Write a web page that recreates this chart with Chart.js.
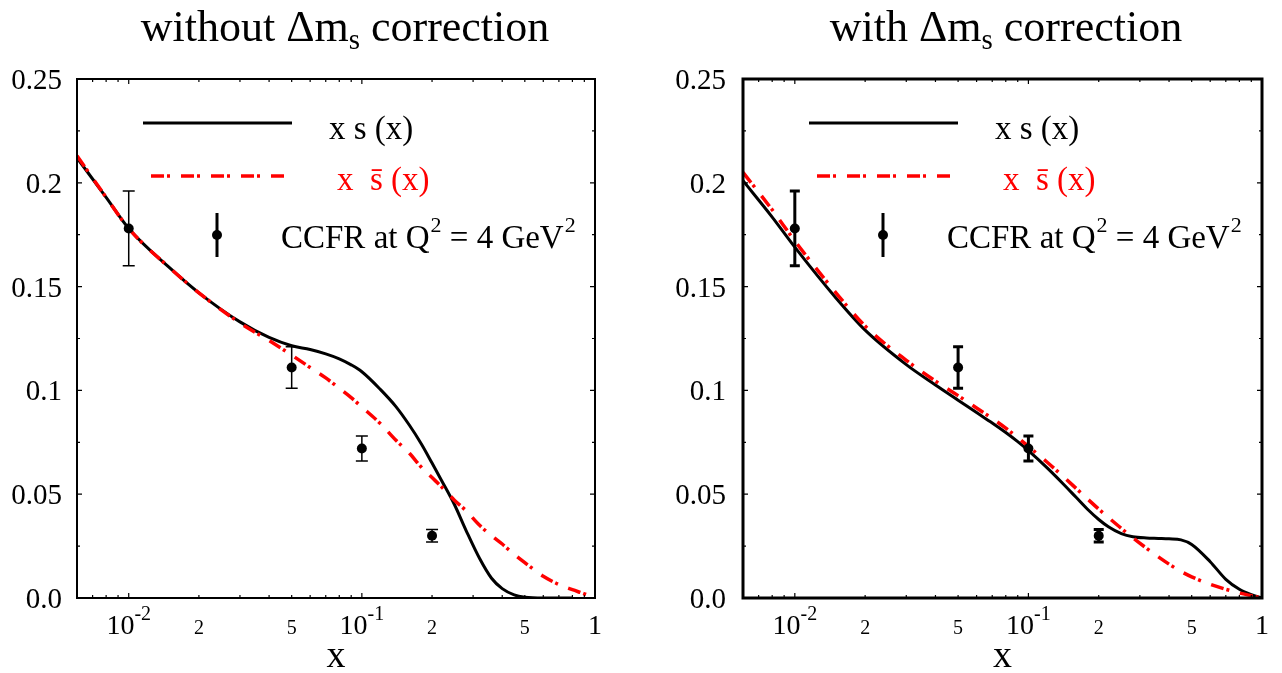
<!DOCTYPE html>
<html>
<head>
<meta charset="utf-8">
<script src="https://cdn.jsdelivr.net/npm/chart.js@4.4.1/dist/chart.umd.min.js"></script>
<style>
  body { margin: 0; background: #fff; }
  #wrap { position: relative; width: 1282px; height: 673px; }
  canvas { position: absolute; top: 0; }
</style>
</head>
<body>
<div id="wrap">
  <canvas id="leftPanel" width="641" height="673" style="left:0"></canvas>
  <canvas id="rightPanel" width="641" height="673" style="left:641px"></canvas>
</div>
<script>
// x grid used by all curves
var xGrid = [0.006, 0.008, 0.01, 0.015, 0.02, 0.03, 0.04, 0.05, 0.06, 0.07, 0.08, 0.09, 0.1,
             0.12, 0.14, 0.16, 0.18, 0.2, 0.22, 0.25, 0.28, 0.32, 0.36, 0.4, 0.45, 0.5,
             0.6, 0.7, 0.8, 0.9, 1.0];

// without Delta m_s correction
var leftS    = [0.212, 0.193, 0.178, 0.159, 0.147, 0.133, 0.1255, 0.1215, 0.1197, 0.1176, 0.1152, 0.1123, 0.109,
                0.1005, 0.0922, 0.0832, 0.0742, 0.065, 0.0565, 0.0448, 0.0325, 0.019, 0.0095, 0.0045, 0.0015, 0.0004,
                0, 0, 0];
var leftSbar = [0.213, 0.193, 0.178, 0.159, 0.147, 0.1325, 0.124, 0.117, 0.111, 0.106, 0.101, 0.0965, 0.092,
                0.084, 0.076, 0.0697, 0.063, 0.058, 0.0535, 0.047, 0.042, 0.035, 0.030, 0.026, 0.021, 0.017,
                0.0105, 0.0065, 0.004, 0.002, 0];

// with Delta m_s correction
var rightS    = [0.201, 0.1835, 0.169, 0.1445, 0.129, 0.1124, 0.1026, 0.0953, 0.0893, 0.0843, 0.0797, 0.0753, 0.071,
                 0.0628, 0.0553, 0.0485, 0.0425, 0.0378, 0.0343, 0.031, 0.0295, 0.0289, 0.0287, 0.0285, 0.028, 0.0258,
                 0.0175, 0.009, 0.0042, 0.0016, 0];
var rightSbar = [0.205, 0.187, 0.172, 0.147, 0.131, 0.1145, 0.1045, 0.0975, 0.0915, 0.0865, 0.0818, 0.0773, 0.073,
                 0.0655, 0.0588, 0.0528, 0.0475, 0.0428, 0.0388, 0.0335, 0.029, 0.024, 0.0198, 0.0163, 0.0128, 0.0102,
                 0.0066, 0.0042, 0.0024, 0.0011, 0];

// CCFR data at Q^2 = 4 GeV^2
var ccfrX   = [0.01, 0.05, 0.1, 0.2];
var ccfrY   = [0.178, 0.111, 0.072, 0.030];
var ccfrErr = [0.018, 0.010, 0.006, 0.003];

// axes
var xMajorTicks = [0.01, 0.1, 1];
var xMinorTicks = [0.006, 0.007, 0.008, 0.009, 0.02, 0.03, 0.04, 0.05, 0.06, 0.07, 0.08, 0.09,
                   0.2, 0.3, 0.4, 0.5, 0.6, 0.7, 0.8, 0.9];
var xLabelValues = [0.01, 0.02, 0.05, 0.1, 0.2, 0.5, 1];
var xLabelTexts  = ['10', '2', '5', '10', '2', '5', '1'];
var xLabelSups   = ['-2', '', '', '-1', '', '', ''];
var yMajorTicks = [0, 0.05, 0.1, 0.15, 0.2, 0.25];
var yTickLabels = ['0.0', '0.05', '0.1', '0.15', '0.2', '0.25'];
var yMinorTicks = [0.025, 0.075, 0.125, 0.175, 0.225];

var SERIF = '"Liberation Serif", "Times New Roman", serif';

function pts(xv, yv) {
  var out = [];
  for (var i = 0; i < yv.length; i++) out.push({ x: xv[i], y: yv[i] });
  return out;
}

var decorPlugin = {
  id: 'decor',
  afterDatasetsDraw: function (chart) {
    var o = chart.options.plugins.decor;
    var ctx = chart.ctx, a = chart.chartArea;
    var xs = chart.scales.x, ys = chart.scales.y;
    ctx.save();

    // error bars
    ctx.strokeStyle = '#000';
    ctx.lineWidth = o.errWidth;
    for (var i = 0; i < ccfrX.length; i++) {
      var px = xs.getPixelForValue(ccfrX[i]);
      var t = ys.getPixelForValue(ccfrY[i] + ccfrErr[i]);
      var b = ys.getPixelForValue(ccfrY[i] - ccfrErr[i]);
      ctx.beginPath();
      ctx.moveTo(px, t); ctx.lineTo(px, b);
      ctx.moveTo(px - o.cap, t); ctx.lineTo(px + o.cap, t);
      ctx.moveTo(px - o.cap, b); ctx.lineTo(px + o.cap, b);
      ctx.stroke();
    }

    // frame
    ctx.lineWidth = o.frameWidth;
    ctx.strokeRect(a.left, a.top, a.right - a.left, a.bottom - a.top);

    // ticks (inward)
    ctx.lineWidth = 1.2;
    ctx.beginPath();
    function xt(v, len) {
      var p = xs.getPixelForValue(v);
      ctx.moveTo(p, a.bottom); ctx.lineTo(p, a.bottom - len);
      ctx.moveTo(p, a.top); ctx.lineTo(p, a.top + len);
    }
    function yt(v, len) {
      var p = ys.getPixelForValue(v);
      ctx.moveTo(a.left, p); ctx.lineTo(a.left + len, p);
      ctx.moveTo(a.right, p); ctx.lineTo(a.right - len, p);
    }
    xMajorTicks.forEach(function (v) { xt(v, 5); });
    xMinorTicks.forEach(function (v) { xt(v, 3); });
    yMajorTicks.forEach(function (v) { yt(v, 5); });
    yMinorTicks.forEach(function (v) { yt(v, 3); });
    ctx.stroke();

    // y labels
    ctx.fillStyle = '#000';
    ctx.font = '29px ' + SERIF;
    ctx.textAlign = 'right';
    ctx.textBaseline = 'alphabetic';
    yMajorTicks.forEach(function (v, i) {
      ctx.fillText(yTickLabels[i], a.left - o.yLabelGap, ys.getPixelForValue(v) + 10);
    });

    // x labels
    ctx.textAlign = 'left';
    xLabelValues.forEach(function (v, i) {
      var p = xs.getPixelForValue(v);
      var big = xMajorTicks.indexOf(v) >= 0;
      var mainFont = (big ? '28px ' : '20px ') + SERIF;
      ctx.font = mainFont;
      var wb = ctx.measureText(xLabelTexts[i]).width;
      var ws = 0;
      if (xLabelSups[i]) {
        ctx.font = '20px ' + SERIF;
        ws = ctx.measureText(xLabelSups[i]).width;
      }
      var x0 = p - (wb + ws) / 2;
      ctx.font = mainFont;
      ctx.fillText(xLabelTexts[i], x0, a.bottom + 36);
      if (xLabelSups[i]) {
        ctx.font = '20px ' + SERIF;
        ctx.fillText(xLabelSups[i], x0 + wb, a.bottom + 22);
      }
    });

    // axis title
    ctx.font = '38px ' + SERIF;
    ctx.textAlign = 'center';
    ctx.fillText('x', (a.left + a.right) / 2, a.bottom + 69);

    // panel title: "<prefix> Δm_s correction"
    ctx.textAlign = 'left';
    ctx.font = '44px ' + SERIF;
    var p1 = o.title + ' \u0394m', p3 = ' correction';
    var w1 = ctx.measureText(p1).width, w3 = ctx.measureText(p3).width;
    ctx.font = '29px ' + SERIF;
    var w2 = ctx.measureText('s').width;
    var tx = o.titleCenter - (w1 + w2 + w3) / 2;
    ctx.font = '44px ' + SERIF;
    ctx.fillText(p1, tx, 41);
    ctx.fillText(p3, tx + w1 + w2, 41);
    ctx.font = '29px ' + SERIF;
    ctx.fillText('s', tx + w1, 49);

    // legend
    var L = a.left, T = a.top;
    ctx.lineWidth = 3;
    ctx.strokeStyle = '#000';
    ctx.beginPath(); ctx.moveTo(L + 66, T + 44); ctx.lineTo(L + 215, T + 44); ctx.stroke();
    ctx.strokeStyle = '#ff0000';
    ctx.lineWidth = 3.5;
    ctx.setLineDash([13, 3, 3, 11]);
    ctx.beginPath(); ctx.moveTo(L + 74, T + 97); ctx.lineTo(L + 210, T + 97); ctx.stroke();
    ctx.setLineDash([]);
    ctx.strokeStyle = '#000';
    ctx.lineWidth = 3;
    ctx.beginPath(); ctx.moveTo(L + 140, T + 134); ctx.lineTo(L + 140, T + 178); ctx.stroke();
    ctx.beginPath(); ctx.arc(L + 140, T + 156, 5, 0, Math.PI * 2); ctx.fill();

    ctx.font = '33px ' + SERIF;
    ctx.fillStyle = '#000';
    ctx.fillText('x s (x)', L + 252, T + 60);
    ctx.fillStyle = '#ff0000';
    ctx.fillText('x  s\u0304 (x)', L + 260, T + 111);
    ctx.fillStyle = '#000';
    var c1 = 'CCFR at Q', c2 = ' = 4 GeV';
    var cx = L + 204;
    ctx.fillText(c1, cx, T + 169);
    cx += ctx.measureText(c1).width;
    ctx.font = '22px ' + SERIF;
    ctx.fillText('2', cx + 1, T + 153);
    cx += ctx.measureText('2').width + 1;
    ctx.font = '33px ' + SERIF;
    ctx.fillText(c2, cx, T + 169);
    cx += ctx.measureText(c2).width;
    ctx.font = '22px ' + SERIF;
    ctx.fillText('2', cx + 1, T + 153);

    ctx.restore();
  }
};

function makePanel(id, sVals, sbarVals, deco, pad) {
  return new Chart(document.getElementById(id), {
    type: 'line',
    data: {
      datasets: [
        { data: pts(ccfrX, ccfrY), showLine: false, pointRadius: 5, pointBackgroundColor: '#000',
          pointBorderWidth: 0, order: 0 },
        { data: pts(xGrid, sbarVals), borderColor: '#ff0000', borderWidth: 3.5, borderDash: [13, 3, 3, 11],
          pointRadius: 0, cubicInterpolationMode: 'monotone', fill: false, order: 1 },
        { data: pts(xGrid, sVals), borderColor: '#000', borderWidth: 3, pointRadius: 0,
          cubicInterpolationMode: 'monotone', fill: false, order: 2 }
      ]
    },
    options: {
      responsive: false,
      animation: false,
      events: [],
      layout: { padding: pad },
      scales: {
        x: { type: 'logarithmic', min: 0.006, max: 1, display: false },
        y: { type: 'linear', min: 0, max: 0.25, display: false }
      },
      plugins: {
        legend: { display: false },
        tooltip: { enabled: false },
        decor: deco
      }
    },
    plugins: [decorPlugin]
  });
}

makePanel('leftPanel', leftS, leftSbar,
  { title: 'without', titleCenter: 345, frameWidth: 2, errWidth: 1.5, cap: 6, yLabelGap: 15 },
  { left: 77, top: 79, right: 46, bottom: 75 });
makePanel('rightPanel', rightS, rightSbar,
  { title: 'with', titleCenter: 365, frameWidth: 3, errWidth: 3, cap: 5, yLabelGap: 17 },
  { left: 102, top: 79, right: 20, bottom: 75 });
</script>
</body>
</html>
